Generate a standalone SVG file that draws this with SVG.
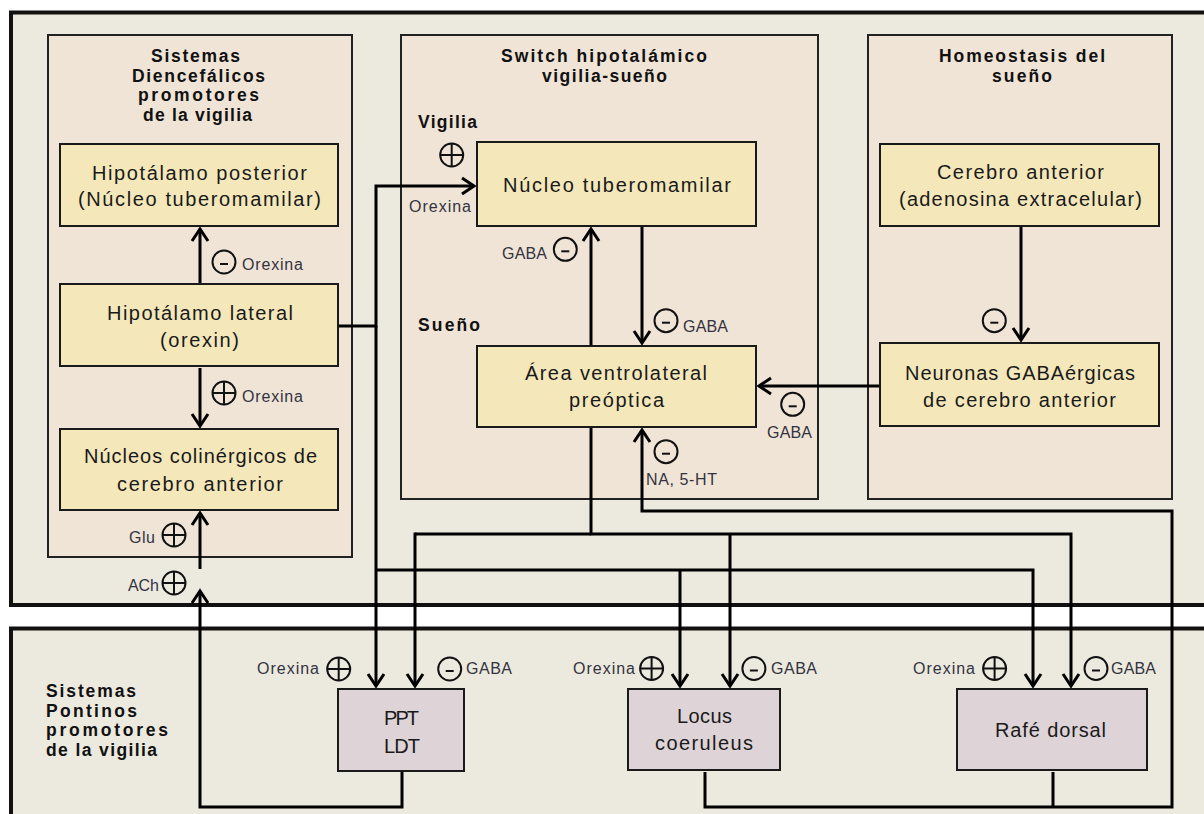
<svg xmlns="http://www.w3.org/2000/svg" xmlns:xlink="http://www.w3.org/1999/xlink" width="1204" height="814" viewBox="0 0 1204 814">
<style>
.outer{fill:#ECE9DF;stroke:#111;stroke-width:4}
.panel{fill:#EFE4D6;stroke:#222;stroke-width:2}
.yb{fill:#F4E8BB;stroke:#1a1a1a;stroke-width:2}
.pb{fill:#DED4D7;stroke:#1a1a1a;stroke-width:2}
.ttl{font-family:"Liberation Sans",Arial,sans-serif;font-weight:bold;font-size:17.5px;fill:#111}
.bt{font-family:"Liberation Sans",Arial,sans-serif;font-size:20px;fill:#1a1a1a}
.sl{font-family:"Liberation Sans",Arial,sans-serif;font-size:16px;fill:#333340}
.c{fill:none;stroke:#000;stroke-width:3;stroke-linejoin:miter}
.sg{fill:none;stroke:#111;stroke-width:2}
</style>
<defs>
<marker id="arr" markerUnits="userSpaceOnUse" markerWidth="30" markerHeight="30" viewBox="-15 -15 30 30" refX="0" refY="0" orient="auto">
<path d="M-12,-8 L0,0 L-12,8" fill="none" stroke="#000" stroke-width="3"/>
</marker>
<g id="plus" class="sg"><circle r="11.5"/><path d="M-11.5,0 H11.5 M0,-11.5 V11.5"/></g>
<g id="minus" class="sg"><circle r="11.5"/><path d="M-4,2 H4"/></g>
</defs>
<rect x="0" y="0" width="1204" height="814" fill="#fff"/>
<g id="top-region">
<rect class="outer" x="11" y="12.5" width="1210" height="592.5"/>
</g>
<g id="bottom-region">
<rect class="outer" x="11" y="628.5" width="1210" height="200"/>
</g>
<g id="panel-diencefalicos">
<rect class="panel" x="48" y="35" width="304" height="522"/>
<text class="ttl" x="151" y="62" textLength="89">Sistemas</text>
<text class="ttl" x="132" y="81.5" textLength="133">Diencefálicos</text>
<text class="ttl" x="138" y="101" textLength="121">promotores</text>
<text class="ttl" x="143" y="120.5" textLength="109">de la vigilia</text>
</g>
<g id="panel-switch">
<rect class="panel" x="401" y="35" width="417" height="464"/>
<text class="ttl" x="501" y="62" textLength="206">Switch hipotalámico</text>
<text class="ttl" x="542" y="81.5" textLength="125">vigilia-sueño</text>
<text class="ttl" x="418" y="128" textLength="59">Vigilia</text>
<text class="ttl" x="418" y="330.7" textLength="62">Sueño</text>
</g>
<g id="panel-homeostasis">
<rect class="panel" x="868" y="35" width="304" height="464"/>
<text class="ttl" x="939" y="62" textLength="166">Homeostasis del</text>
<text class="ttl" x="992" y="81.5" textLength="60">sueño</text>
</g>
<g id="label-pontinos">
<text class="ttl" x="46" y="697" textLength="90">Sistemas</text>
<text class="ttl" x="46" y="716.5" textLength="91">Pontinos</text>
<text class="ttl" x="46" y="736" textLength="122">promotores</text>
<text class="ttl" x="46" y="755.5" textLength="111">de la vigilia</text>
</g>
<g id="connectors">
<path class="c" d="M200,284 V229" marker-end="url(#arr)"/>
<path class="c" d="M200,368 V426" marker-end="url(#arr)"/>
<path class="c" d="M200,569 V513" marker-end="url(#arr)"/>
<path class="c" d="M402,772 V807 H200 V591" marker-end="url(#arr)"/>
<path class="c" d="M338,326 H376 V186 H474" marker-end="url(#arr)"/>
<path class="c" d="M376,326 V686" marker-end="url(#arr)"/>
<path class="c" d="M376,570 H1033 V686" marker-end="url(#arr)"/>
<path class="c" d="M680,570 V686" marker-end="url(#arr)"/>
<path class="c" d="M591,346 V229" marker-end="url(#arr)"/>
<path class="c" d="M591,427 V534 H1071 V686" marker-end="url(#arr)"/>
<path class="c" d="M415,534 H591" />
<path class="c" d="M415,532.5 V686" marker-end="url(#arr)"/>
<path class="c" d="M730,534 V686" marker-end="url(#arr)"/>
<path class="c" d="M642,226 V343" marker-end="url(#arr)"/>
<path class="c" d="M705,772 V807 H1172 V511 H642 V430" marker-end="url(#arr)"/>
<path class="c" d="M1053,772 V807"/>
<path class="c" d="M880,386 H759" marker-end="url(#arr)"/>
<path class="c" d="M1021,226 V340" marker-end="url(#arr)"/>
</g>
<g id="signs">
<use href="#minus" x="224" y="262"/>
<text class="sl" x="242" y="270" textLength="61">Orexina</text>
<use href="#plus" x="224" y="393"/>
<text class="sl" x="242" y="402" textLength="61">Orexina</text>
<use href="#plus" x="174" y="535"/>
<text class="sl" x="129" y="543" textLength="26">Glu</text>
<use href="#plus" x="174" y="583"/>
<text class="sl" x="128" y="591" textLength="31">ACh</text>
<use href="#plus" x="451.7" y="155"/>
<text class="sl" x="409" y="212" textLength="62">Orexina</text>
<use href="#minus" x="565.3" y="249.3"/>
<text class="sl" x="502" y="259" textLength="45">GABA</text>
<use href="#minus" x="666" y="320.7"/>
<text class="sl" x="683" y="332" textLength="45">GABA</text>
<use href="#minus" x="792.7" y="404.3"/>
<text class="sl" x="767" y="438.3" textLength="45">GABA</text>
<use href="#minus" x="666" y="451.7"/>
<text class="sl" x="646" y="485" textLength="71">NA, 5-HT</text>
<use href="#minus" x="994.3" y="320.7"/>
<use href="#plus" x="338.7" y="669"/>
<text class="sl" x="257" y="674" textLength="62">Orexina</text>
<use href="#minus" x="449.7" y="669"/>
<text class="sl" x="466" y="674" textLength="46">GABA</text>
<use href="#plus" x="651.6" y="668.5"/>
<text class="sl" x="573" y="674" textLength="62">Orexina</text>
<use href="#minus" x="753.9" y="668.5"/>
<text class="sl" x="771" y="674" textLength="46">GABA</text>
<use href="#plus" x="994.6" y="668.5"/>
<text class="sl" x="913" y="674" textLength="62">Orexina</text>
<use href="#minus" x="1096" y="668.5"/>
<text class="sl" x="1111" y="674" textLength="45">GABA</text>
</g>
<g id="node-hipotalamo-posterior">
<rect class="yb" x="60" y="144" width="278" height="82"/>
<text class="bt" x="92" y="180" textLength="215">Hipotálamo posterior</text>
<text class="bt" x="78" y="206" textLength="243">(Núcleo tuberomamilar)</text>
</g>
<g id="node-hipotalamo-lateral">
<rect class="yb" x="60" y="284" width="278" height="82"/>
<text class="bt" x="107" y="320" textLength="186">Hipotálamo lateral</text>
<text class="bt" x="160" y="347" textLength="79">(orexin)</text>
</g>
<g id="node-nucleos-colinergicos">
<rect class="yb" x="60" y="429" width="278" height="81"/>
<text class="bt" x="84" y="463" textLength="233">Núcleos colinérgicos de</text>
<text class="bt" x="117" y="491" textLength="166">cerebro anterior</text>
</g>
<g id="node-nucleo-tuberomamilar">
<rect class="yb" x="477" y="142" width="279" height="84"/>
<text class="bt" x="503" y="191.7" textLength="228">Núcleo tuberomamilar</text>
</g>
<g id="node-area-ventrolateral">
<rect class="yb" x="477" y="346" width="279" height="81"/>
<text class="bt" x="525" y="380" textLength="182">Área ventrolateral</text>
<text class="bt" x="569" y="407.3" textLength="95">preóptica</text>
</g>
<g id="node-cerebro-anterior">
<rect class="yb" x="880" y="144" width="279" height="82"/>
<text class="bt" x="937" y="179" textLength="167">Cerebro anterior</text>
<text class="bt" x="899" y="205.7" textLength="243">(adenosina extracelular)</text>
</g>
<g id="node-neuronas-gabaergicas">
<rect class="yb" x="880" y="343" width="279" height="83"/>
<text class="bt" x="905" y="380" textLength="230">Neuronas GABAérgicas</text>
<text class="bt" x="923" y="406.7" textLength="193">de cerebro anterior</text>
</g>
<g id="node-ppt-ldt">
<rect class="pb" x="338" y="689" width="126" height="82"/>
<text class="bt" x="384" y="725" textLength="35">PPT</text>
<text class="bt" x="384" y="752.7" textLength="36">LDT</text>
</g>
<g id="node-locus-coeruleus">
<rect class="pb" x="628" y="689" width="152" height="81"/>
<text class="bt" x="677" y="722.7" textLength="55">Locus</text>
<text class="bt" x="655" y="750" textLength="98">coeruleus</text>
</g>
<g id="node-rafe-dorsal">
<rect class="pb" x="957" y="689" width="190" height="81"/>
<text class="bt" x="995" y="736.7" textLength="111">Rafé dorsal</text>
</g>
</svg>
